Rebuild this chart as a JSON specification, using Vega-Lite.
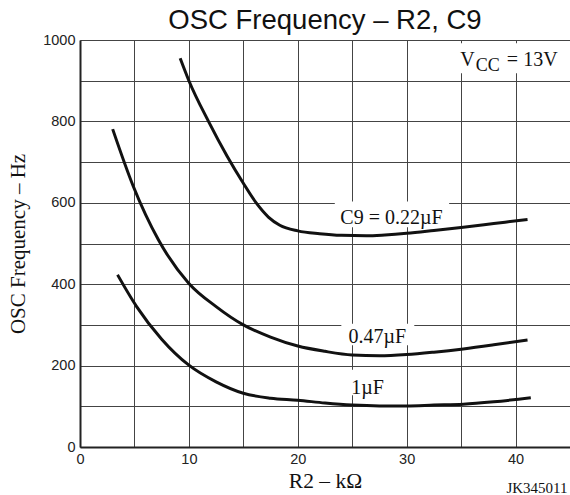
{
  "$schema": "https://vega.github.io/schema/vega-lite/v6.json",
  "width": 490,
  "height": 407,
  "autosize": "none",
  "padding": {"left": 80, "top": 40, "right": 0, "bottom": 48},
  "background": "white",
  "config": {"view": {"stroke": null}},
  "title": {"text": "OSC Frequency – R2, C9", "font": "Liberation Sans", "fontSize": 27.5, "fontWeight": "normal", "color": "#111", "offset": -2, "frame": "group"},
  "datasets": {
    "curves": [
      {"c9": "0.22", "r2": 9.2, "f": 955}, {"c9": "0.22", "r2": 10, "f": 900}, {"c9": "0.22", "r2": 11.8, "f": 800}, {"c9": "0.22", "r2": 13.5, "f": 715}, {"c9": "0.22", "r2": 15, "f": 648}, {"c9": "0.22", "r2": 16.2, "f": 599}, {"c9": "0.22", "r2": 17.3, "f": 565}, {"c9": "0.22", "r2": 18.35, "f": 545}, {"c9": "0.22", "r2": 20, "f": 531}, {"c9": "0.22", "r2": 22, "f": 524}, {"c9": "0.22", "r2": 24, "f": 520}, {"c9": "0.22", "r2": 26.3, "f": 519}, {"c9": "0.22", "r2": 28, "f": 521}, {"c9": "0.22", "r2": 30, "f": 525}, {"c9": "0.22", "r2": 32.5, "f": 532}, {"c9": "0.22", "r2": 35.2, "f": 540}, {"c9": "0.22", "r2": 38, "f": 549}, {"c9": "0.22", "r2": 41.1, "f": 559},
      {"c9": "0.47", "r2": 3.0, "f": 781}, {"c9": "0.47", "r2": 4.9, "f": 640}, {"c9": "0.47", "r2": 7.2, "f": 509}, {"c9": "0.47", "r2": 10, "f": 402}, {"c9": "0.47", "r2": 12.5, "f": 345}, {"c9": "0.47", "r2": 15, "f": 300}, {"c9": "0.47", "r2": 17.5, "f": 270}, {"c9": "0.47", "r2": 20, "f": 248}, {"c9": "0.47", "r2": 22.5, "f": 235}, {"c9": "0.47", "r2": 25, "f": 226}, {"c9": "0.47", "r2": 27.5, "f": 224}, {"c9": "0.47", "r2": 30, "f": 227}, {"c9": "0.47", "r2": 32.5, "f": 233}, {"c9": "0.47", "r2": 35.2, "f": 241}, {"c9": "0.47", "r2": 38, "f": 251}, {"c9": "0.47", "r2": 41.1, "f": 263},
      {"c9": "1", "r2": 3.45, "f": 423}, {"c9": "1", "r2": 5.2, "f": 345}, {"c9": "1", "r2": 7.5, "f": 265}, {"c9": "1", "r2": 10, "f": 201}, {"c9": "1", "r2": 12.5, "f": 160}, {"c9": "1", "r2": 15, "f": 132}, {"c9": "1", "r2": 17.5, "f": 120}, {"c9": "1", "r2": 20, "f": 115}, {"c9": "1", "r2": 22.5, "f": 108}, {"c9": "1", "r2": 25, "f": 103}, {"c9": "1", "r2": 27.5, "f": 101}, {"c9": "1", "r2": 30, "f": 101}, {"c9": "1", "r2": 32.5, "f": 103}, {"c9": "1", "r2": 35.2, "f": 105}, {"c9": "1", "r2": 38, "f": 111}, {"c9": "1", "r2": 41.4, "f": 121}
    ],
    "boxes": [
      {"x1": 23.4, "x2": 33.9, "y1": 540, "y2": 603},
      {"x1": 24.0, "x2": 30.7, "y1": 250, "y2": 303},
      {"x1": 24.7, "x2": 28.2, "y1": 127, "y2": 190},
      {"x1": 34.6, "x2": 44.5, "y1": 918, "y2": 992}
    ],
    "labels": [
      {"text": "C9 = 0.22µF", "r2": 28.6, "f": 548, "size": 20},
      {"text": "0.47µF", "r2": 27.3, "f": 255, "size": 20},
      {"text": "1µF", "r2": 26.4, "f": 130, "size": 20},
      {"text": "V", "r2": 35.58, "f": 937, "size": 20},
      {"text": "CC", "r2": 37.45, "f": 925, "size": 18},
      {"text": "= 13V", "r2": 41.53, "f": 937, "size": 20},
      {"text": "JK345011", "r2": 41.97, "f": -114, "size": 15}
    ]
  },
  "layer": [
    {
      "data": {"name": "boxes"},
      "mark": {"type": "rect", "color": "white"},
      "encoding": {
        "x": {"field": "x1", "type": "quantitative", "scale": {"domain": [0, 45], "nice": false, "zero": false},
          "axis": {"values": [0, 5, 10, 15, 20, 25, 30, 35, 40, 45], "labelExpr": "datum.value % 10 == 0 ? '' + datum.value : ''", "grid": true, "gridColor": "#444", "gridWidth": 1, "ticks": false, "domainColor": "#222", "domainWidth": 2, "labelFont": "Liberation Sans", "labelFontSize": 14.5, "labelColor": "#222", "labelFlush": false, "labelPadding": 5, "title": "R2 – kΩ", "titleFont": "Liberation Serif", "titleFontSize": 21.5, "titleFontWeight": "normal", "titleColor": "#111", "titlePadding": 5}},
        "x2": {"field": "x2"},
        "y": {"field": "y1", "type": "quantitative", "scale": {"domain": [0, 1000], "nice": false, "zero": false},
          "axis": {"values": [0, 100, 200, 300, 400, 500, 600, 700, 800, 900, 1000], "labelExpr": "datum.value % 200 == 0 ? '' + datum.value : ''", "grid": true, "gridColor": "#444", "gridWidth": 1, "ticks": false, "domainColor": "#222", "domainWidth": 2, "labelFont": "Liberation Sans", "labelFontSize": 14.5, "labelColor": "#222", "labelFlush": false, "labelPadding": 5, "title": "OSC Frequency – Hz", "titleFont": "Liberation Serif", "titleFontSize": 21, "titleFontWeight": "normal", "titleColor": "#111", "titlePadding": 14}},
        "y2": {"field": "y2"}
      }
    },
    {
      "data": {"name": "curves"},
      "mark": {"type": "line", "interpolate": "monotone", "strokeWidth": 3, "color": "#111"},
      "encoding": {
        "x": {"field": "r2", "type": "quantitative"},
        "y": {"field": "f", "type": "quantitative"},
        "detail": {"field": "c9"}
      }
    },
    {
      "data": {"name": "labels"},
      "mark": {"type": "text", "font": "Liberation Serif", "baseline": "alphabetic", "align": "center", "color": "#111"},
      "encoding": {
        "x": {"field": "r2", "type": "quantitative"},
        "y": {"field": "f", "type": "quantitative"},
        "text": {"field": "text"},
        "size": {"field": "size", "type": "quantitative", "scale": null}
      }
    }
  ]
}
